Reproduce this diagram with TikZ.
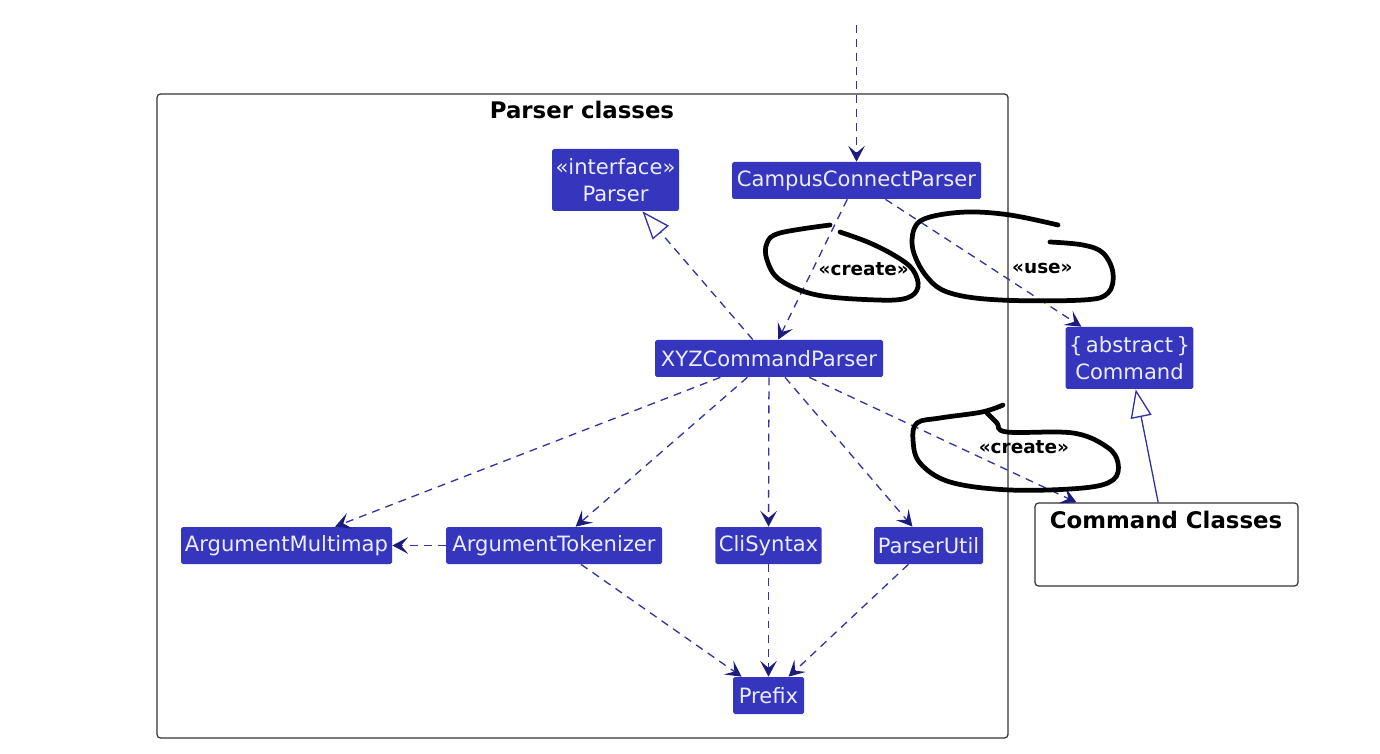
\documentclass[tikz,border=0pt]{standalone}
\usepackage{fontspec}
\setmainfont{DejaVu Sans}
\usetikzlibrary{arrows.meta}
\definecolor{clsfill}{RGB}{53,53,190}
\definecolor{clstext}{RGB}{236,236,255}
\definecolor{linkblue}{RGB}{50,50,165}
\definecolor{headblue}{RGB}{28,28,125}
\begin{document}
\begin{tikzpicture}[
  cls/.style={rectangle, rounded corners=1pt, fill=clsfill, text=clstext, align=center,
    font=\fontsize{12}{14}\selectfont, inner sep=2pt, minimum height=0.74cm},
  pkg/.style={rectangle, draw=black!80, line width=0.7pt, rounded corners=2pt, fill=none},
  pkgtitle/.style={font=\fontsize{13}{15}\selectfont\bfseries, inner sep=0pt},
  lbl/.style={text=black, font=\fontsize{10.5}{12}\selectfont\bfseries, inner sep=1pt},
  dep/.style={linkblue, line width=0.75pt, dash pattern=on 4.5pt off 3.5pt,
    -{Stealth[length=9pt, width=9.5pt, inset=4pt, color=headblue, fill=headblue]}},
  inherit/.style={linkblue, line width=0.75pt,
    -{Triangle[open, length=16pt, width=12pt, fill=white]}},
  realize/.style={inherit, dash pattern=on 4.5pt off 3.5pt},
  scribble/.style={black, line width=2.7pt, line cap=round, line join=round}
]
  \useasboundingbox (0,0) rectangle (27.6,-15.08);

  %% ── Packages ───────────────────────────────────────────────────────────────
  \node[pkg, minimum width=17.02cm, minimum height=12.88cm] (parserpkg) at (11.65,-8.32) {};
  \node[pkgtitle] (parsertitle) at (11.64,-2.20) {Parser classes};
  \node[pkg, minimum width=5.26cm, minimum height=1.66cm] (cmdpkg) at (23.33,-10.89) {};
  \node[pkgtitle] (cmdtitle) at (23.32,-10.40) {Command Classes};

  %% ── Classes ────────────────────────────────────────────────────────────────
  \node[cls, minimum width=2.54cm, minimum height=1.24cm] (parser) at (12.31,-3.60)
    {«interface»\\[1pt]Parser};
  \node[cls, minimum width=4.98cm] (campus) at (17.13,-3.61) {CampusConnectParser};
  \node[cls, minimum width=4.56cm] (xyz) at (15.38,-7.17) {XYZCommandParser};
  \node[cls, minimum width=2.50cm, minimum height=1.24cm] (command) at (22.59,-7.16)
    {\{\,abstract\,\}\\[1pt]Command};

  \node[cls, minimum width=4.22cm] (multimap) at (5.73,-10.91) {ArgumentMultimap};
  \node[cls, minimum width=4.32cm] (tokenizer) at (11.08,-10.91) {ArgumentTokenizer};
  \node[cls, minimum width=2.10cm] (cli) at (15.37,-10.91) {CliSyntax};
  \node[cls, minimum width=2.18cm] (util) at (18.57,-10.91) {ParserUtil};
  \node[cls, minimum width=1.42cm] (prefix) at (15.37,-13.91) {Prefix};

  \coordinate (entry) at (17.13,-0.50);

  %% ── Dependencies ───────────────────────────────────────────────────────────
  \draw[dep] (entry) -- (campus);
  \draw[realize] (xyz) -- (parser);
  % CampusConnectParser creates XYZCommandParser
  \draw[dep] (campus) -- node[lbl, right=2pt] (createa) {«create»} (xyz);
  % CampusConnectParser uses Command
  \draw[dep] (campus) -- node[lbl, xshift=1.18cm, yshift=-0.10cm] (usea) {«use»} (command);
  % XYZCommandParser creates the command classes
  \draw[dep] (xyz) -- node[lbl, xshift=1.62cm, yshift=-0.14cm] (createb) {«create»} (cmdpkg);
  \draw[inherit] (cmdpkg) -- (command);

  \draw[dep] (xyz) -- (multimap);
  \draw[dep] (xyz) -- (tokenizer);
  \draw[dep] (xyz) -- (cli);
  \draw[dep] (xyz) -- (util);
  \draw[dep] (tokenizer) -- (multimap);
  \draw[dep] (tokenizer) -- (prefix);
  \draw[dep] (cli) -- (prefix);
  \draw[dep] (util) -- (prefix);

  %% ── Hand-drawn marks ───────────────────────────────────────────────────────
  \draw[scribble] plot[smooth, tension=0.6] coordinates {
    (16.60,-4.50) (15.60,-4.66) (15.34,-4.86) (15.34,-5.20) (15.60,-5.60)
    (16.34,-5.90) (17.54,-6.00) (18.14,-5.96) (18.36,-5.74) (18.26,-5.40)
    (17.94,-5.14) (17.40,-4.86) (16.80,-4.64)};
  \draw[scribble] plot[smooth, tension=0.6] coordinates {
    (21.16,-4.50) (20.20,-4.30) (19.34,-4.24) (18.60,-4.34) (18.30,-4.54)
    (18.26,-5.00) (18.54,-5.54) (19.00,-5.86) (20.00,-6.00) (21.66,-6.00)
    (22.16,-5.86) (22.26,-5.46) (22.06,-5.06) (21.66,-4.90) (21.00,-4.84)};
  \draw[scribble] plot[smooth, tension=0.6] coordinates {
    (20.06,-8.10) (19.64,-8.24) (18.80,-8.36) (18.34,-8.46) (18.26,-8.80)
    (18.40,-9.26) (19.00,-9.64) (20.20,-9.80) (21.66,-9.76) (22.26,-9.60)
    (22.36,-9.26) (22.14,-8.94) (21.46,-8.66) (20.14,-8.64) (19.94,-8.46)
    (19.74,-8.26)};
\end{tikzpicture}
\end{document}
